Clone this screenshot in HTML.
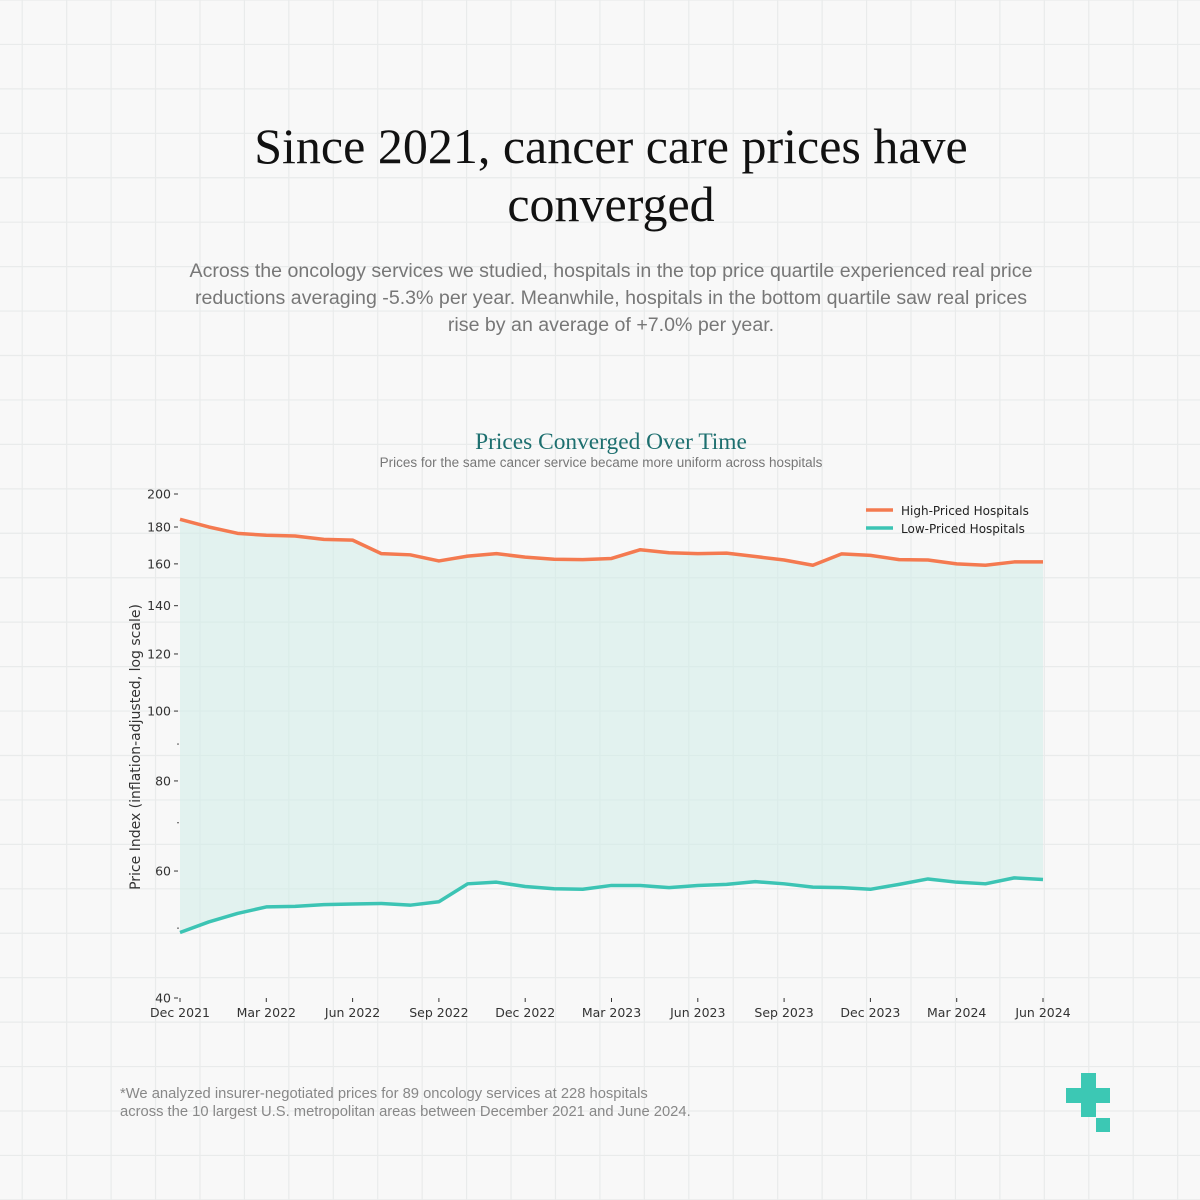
<!DOCTYPE html>
<html><head><meta charset="utf-8"><style>
html,body{margin:0;padding:0;background:#f8f8f8}
body{width:1200px;height:1200px;position:relative;overflow:hidden;font-family:"Liberation Sans",sans-serif}
svg{position:absolute;left:0;top:0}
.dv{font-family:"DejaVu Sans",sans-serif}
</style></head><body>
<svg id="chart" width="1200" height="1200" viewBox="0 0 1200 1200">
<rect width="1200" height="1200" fill="#f8f8f8"/>
<g id="grid"></g>
<text x="611" y="163" text-anchor="middle" font-family="Liberation Serif,serif" font-size="50" fill="#111">Since 2021, cancer care prices have</text>
<text x="611" y="221" text-anchor="middle" font-family="Liberation Serif,serif" font-size="50" fill="#111">converged</text>
<g font-size="19.6" fill="#777" text-anchor="middle">
<text x="611" y="277">Across the oncology services we studied, hospitals in the top price quartile experienced real price</text>
<text x="611" y="304">reductions averaging -5.3% per year. Meanwhile, hospitals in the bottom quartile saw real prices</text>
<text x="611" y="331">rise by an average of +7.0% per year.</text>
</g>
<text x="611" y="449" text-anchor="middle" font-family="Liberation Serif,serif" font-size="23.4" fill="#1d6f6f">Prices Converged Over Time</text>
<text x="601" y="467" text-anchor="middle" font-size="13.5" fill="#777">Prices for the same cancer service became more uniform across hospitals</text>
<g id="plot"></g>
<text class="dv" transform="translate(140,747) rotate(-90)" text-anchor="middle" font-size="14" fill="#333">Price Index (inflation-adjusted, log scale)</text>
<g class="dv">
<line x1="866" y1="510" x2="893" y2="510" stroke="#f47a50" stroke-width="3.5"/>
<text x="901" y="515" font-size="12" fill="#222">High-Priced Hospitals</text>
<line x1="866" y1="528" x2="893" y2="528" stroke="#3cc4b4" stroke-width="3.5"/>
<text x="901" y="533" font-size="12" fill="#222">Low-Priced Hospitals</text>
</g>
<g font-size="14.75" fill="#888">
<text x="120" y="1098">*We analyzed insurer-negotiated prices for 89 oncology services at 228 hospitals</text>
<text x="120" y="1116">across the 10 largest U.S. metropolitan areas between December 2021 and June 2024.</text>
</g>
<g fill="#3cc8b4">
<rect x="1081" y="1073" width="15" height="44"/>
<rect x="1066" y="1088" width="44" height="15"/>
<rect x="1096" y="1118" width="14" height="14"/>
</g>
</svg>
<script>
const high = [184.5,180,176.4,175.3,174.9,173,172.6,165.3,164.7,161.5,164,165.3,163.5,162.4,162.2,162.8,167.4,165.8,165.3,165.6,163.8,162,159.3,165.2,164.4,162.2,162,160,159.3,161,161];
const low = [49.3,51.0,52.4,53.5,53.6,53.9,54.0,54.1,53.8,54.4,57.6,57.9,57.1,56.7,56.6,57.3,57.3,56.9,57.3,57.5,58.0,57.6,57.0,56.9,56.6,57.5,58.5,57.9,57.6,58.7,58.4];
const yTicks = [200,180,160,140,120,100,80,60,40];
const yMinor = [90,70,50];
const xTickLabels = ["Dec 2021","Mar 2022","Jun 2022","Sep 2022","Dec 2022","Mar 2023","Jun 2023","Sep 2023","Dec 2023","Mar 2024","Jun 2024"];
const xTickMonths = [0,3,6,9,12,15,18,21,24,27,30];

const NS="http://www.w3.org/2000/svg";
const X0=180,X1=1043,Y0=494,Y1=998,VMAX=200,VMIN=40;
const nMonths=high.length-1;
function xs(i){return X0+(X1-X0)*i/nMonths;}
function ys(v){return Y0+(Y1-Y0)*Math.log(VMAX/v)/Math.log(VMAX/VMIN);}
function mk(tag,attrs,parent){const e=document.createElementNS(NS,tag);for(const k in attrs)e.setAttribute(k,attrs[k]);parent.appendChild(e);return e;}

const grid=document.getElementById('grid');
for(let k=0;k<28;k++){
  const gx=22.2+k*44.44;
  const l=mk('line',{x1:gx,y1:0,x2:gx,y2:1200,stroke:'#e9ebeb','stroke-width':1.2},grid);
  
  
  const gy=k*44.44;
  const h=mk('line',{x1:0,y1:gy,x2:1200,y2:gy,stroke:'#e9ebeb','stroke-width':1.2},grid);
  
  
}

const plot=document.getElementById('plot');
let area='M'+high.map((v,i)=>xs(i)+','+ys(v)).join(' L');
for(let i=low.length-1;i>=0;i--)area+=' L'+xs(i)+','+ys(low[i]);
area+=' Z';
const band=mk('path',{d:area,fill:'#cfece7','fill-opacity':0.55},plot);



const hl=mk('path',{d:'M'+high.map((v,i)=>xs(i)+','+ys(v)).join(' L'),fill:'none',stroke:'#f47a50','stroke-width':3.5,'stroke-linejoin':'round'},plot);


const ll=mk('path',{d:'M'+low.map((v,i)=>xs(i)+','+ys(v)).join(' L'),fill:'none',stroke:'#3cc4b4','stroke-width':3.5,'stroke-linejoin':'round'},plot);



yTicks.forEach(v=>{
  const y=ys(v);
  const t=mk('line',{x1:174,y1:y,x2:178,y2:y,stroke:'#333','stroke-width':1},plot);
  
  
  const tx=mk('text',{x:171,y:y+4.5,'text-anchor':'end','font-size':12.5,fill:'#333','class':'dv'},plot);
  tx.textContent=v;
  
  
});
yMinor.forEach(v=>{
  const y=ys(v);
  const t=mk('line',{x1:177,y1:y,x2:179,y2:y,stroke:'#555','stroke-width':1},plot);
  
  
});
xTickLabels.forEach((lab,j)=>{
  const x=xs(xTickMonths[j]);
  const t=mk('line',{x1:x,y1:998,x2:x,y2:1002,stroke:'#333','stroke-width':1},plot);
  
  
  const tx=mk('text',{x:x,y:1017,'text-anchor':'middle','font-size':12.5,fill:'#333','class':'dv'},plot);
  tx.textContent=lab;
  
  
});
</script>
</body></html>
